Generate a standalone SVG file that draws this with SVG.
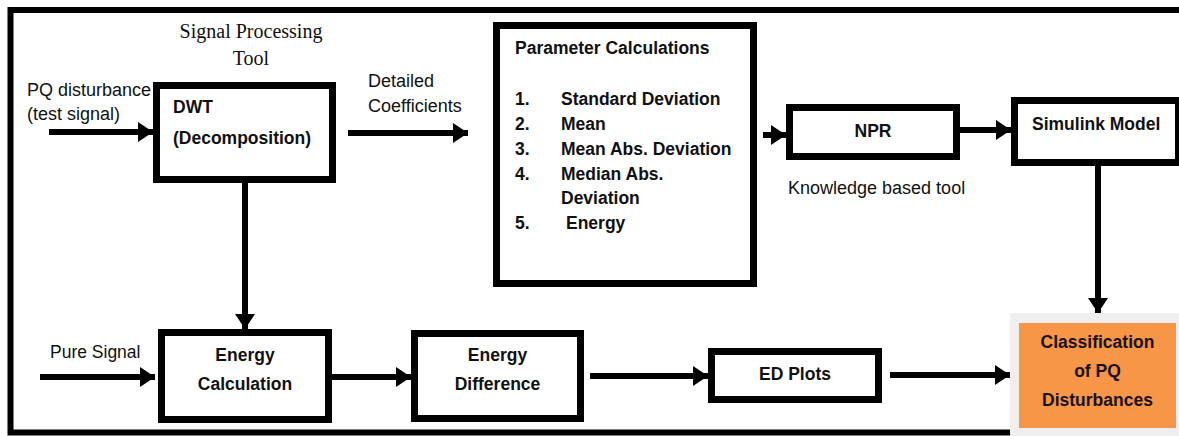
<svg xmlns="http://www.w3.org/2000/svg" width="1179" height="436" viewBox="0 0 1179 436">
<defs>
<style>
.box{fill:#fff;stroke:#000;stroke-width:7}
.b{font-family:"Liberation Sans",Arial,sans-serif;font-weight:bold;font-size:17.5px;fill:#111}
.r{font-family:"Liberation Sans",Arial,sans-serif;font-size:18px;fill:#111}
.s{font-family:"Liberation Serif","Times New Roman",serif;font-size:20px;fill:#111}
.c{text-anchor:middle}
.ln{stroke:#000;stroke-width:6;fill:none;marker-end:url(#ah)}
</style>
<marker id="ah" viewBox="0 0 15 20" refX="15" refY="10" markerWidth="15" markerHeight="20" markerUnits="userSpaceOnUse" orient="auto">
<path d="M0,0 L15,10 L0,20 Z" fill="#000"/>
</marker>
</defs>
<rect width="1179" height="436" fill="#fff"/>
<rect id="frame" x="10.5" y="10" width="1180" height="422.5" fill="none" stroke="#000" stroke-width="6"/>
<rect x="1010" y="313" width="175" height="130" fill="#efefef"/>

<g id="labels">
<text class="s c" x="251" y="38">Signal Processing</text>
<text class="s c" x="251" y="65">Tool</text>
<text class="r" x="27" y="96">PQ disturbance</text>
<text class="r" x="27" y="120">(test signal)</text>
<text class="r" x="368" y="87">Detailed</text>
<text class="r" x="368" y="112">Coefficients</text>
<text class="r" x="788" y="194">Knowledge based tool</text>
<text class="r" x="50" y="358" style="font-size:17.5px">Pure Signal</text>
</g>

<g id="connectors">
<line class="ln" x1="49" y1="132" x2="153" y2="132"/>
<line class="ln" x1="348" y1="133" x2="468" y2="133"/>
<line class="ln" x1="763" y1="135" x2="786" y2="135"/>
<line class="ln" x1="960" y1="130" x2="1011" y2="130"/>
<line class="ln" x1="1098" y1="166" x2="1098" y2="313"/>
<line class="ln" x1="245" y1="183" x2="245" y2="329"/>
<line class="ln" x1="40" y1="377" x2="155" y2="377"/>
<line class="ln" x1="332" y1="377" x2="411" y2="377"/>
<line class="ln" x1="590" y1="376" x2="708" y2="376"/>
<line class="ln" x1="890" y1="375" x2="1010" y2="375"/>
</g>

<g id="dwt">
<rect class="box" x="156.5" y="85.5" width="176" height="94"/>
<text class="b" x="173" y="113">DWT</text>
<text class="b" x="173" y="144">(Decomposition)</text>
</g>

<g id="params">
<rect class="box" x="496.5" y="25.5" width="257" height="258"/>
<text class="b" x="515" y="54">Parameter Calculations</text>
<text class="b" x="515" y="105">1.</text><text class="b" x="561" y="105">Standard Deviation</text>
<text class="b" x="515" y="130">2.</text><text class="b" x="561" y="130">Mean</text>
<text class="b" x="515" y="155">3.</text><text class="b" x="561" y="155">Mean Abs. Deviation</text>
<text class="b" x="515" y="180">4.</text><text class="b" x="561" y="180">Median Abs.</text>
<text class="b" x="561" y="204">Deviation</text>
<text class="b" x="515" y="229">5.</text><text class="b" x="566" y="229">Energy</text>
</g>

<g id="npr">
<rect class="box" x="789.5" y="107.5" width="167" height="49"/>
<text class="b c" x="873" y="137">NPR</text>
</g>

<g id="simulink">
<rect class="box" x="1014.5" y="100.5" width="164" height="62"/>
<text class="b" x="1032" y="130">Simulink Model</text>
</g>

<g id="classification">
<rect x="1019" y="323" width="157" height="105" fill="#f79646"/>
<text class="b c" x="1097.5" y="348" style="fill:#1a1208">Classification</text>
<text class="b c" x="1097.5" y="377" style="fill:#1a1208">of PQ</text>
<text class="b c" x="1097.5" y="406" style="fill:#1a1208">Disturbances</text>
</g>

<g id="energycalc">
<rect class="box" x="161.5" y="332.5" width="167" height="87"/>
<text class="b c" x="245" y="361">Energy</text>
<text class="b c" x="245" y="390">Calculation</text>
</g>

<g id="energydiff">
<rect class="box" x="414.5" y="333.5" width="166" height="85"/>
<text class="b c" x="497.5" y="361">Energy</text>
<text class="b c" x="497.5" y="390">Difference</text>
</g>

<g id="edplots">
<rect class="box" x="711.5" y="351.5" width="167" height="48"/>
<text class="b c" x="795" y="380">ED Plots</text>
</g>
</svg>
